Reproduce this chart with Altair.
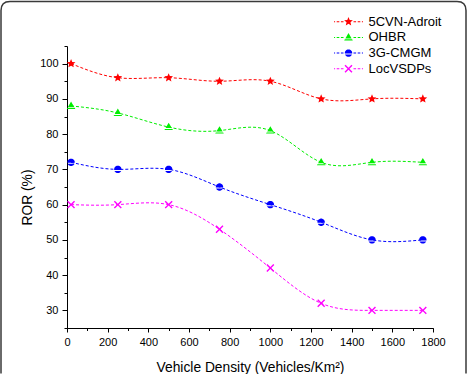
import math

import altair as alt
import pandas as pd

# ---- data -----------------------------------------------------------------
density = [20, 250, 500, 750, 1000, 1250, 1500, 1750]
series_names = ["5CVN-Adroit", "OHBR", "3G-CMGM", "LocVSDPs"]
ror_5cvn = [100, 96, 96, 95, 95, 90, 90, 90]
ror_ohbr = [88, 86, 82, 81, 81, 72, 72, 72]
ror_3g = [72, 70, 70, 65, 60, 55, 50, 50]
ror_loc = [60, 60, 60, 53, 42, 32, 30, 30]
series_colors = ["#ff0000", "#00ee00", "#0000ff", "#ff00ff"]

x_major = list(range(0, 1801, 200))
x_minor = list(range(0, 1801, 100))
y_major = list(range(30, 101, 10))
y_minor = list(range(25, 106, 5))

rows = []
for name, vals in zip(series_names, [ror_5cvn, ror_ohbr, ror_3g, ror_loc]):
    for d, v in zip(density, vals):
        rows.append({"series": name, "density": d, "ror": v})
df = pd.DataFrame(rows)


# ---- marker glyphs (built in pixels, converted to symbol units) -------------
def fmt(v):
    s = f"{v:.3f}".rstrip("0").rstrip(".")
    return s if s not in ("-0", "") else "0"


def to_path(polys, k):
    out = []
    for pts in polys:
        out.append("M" + "L".join(f"{fmt(x / k)},{fmt(y / k)}" for x, y in pts) + "Z")
    return "".join(out)


def star_px(R=4.6, ratio=0.45):
    pts = []
    for i in range(10):
        r = R if i % 2 == 0 else R * ratio
        a = -math.pi / 2 + i * math.pi / 5
        pts.append((r * math.cos(a), r * math.sin(a)))
    return [pts]


def banded_triangle_px(h1=4.4, h2=3.0, w=4.3, c1=1.0, c2=1.9):
    def half(y):
        return w * (y + h1) / (h1 + h2)
    upper = [(0, -h1), (half(c1), c1), (-half(c1), c1)]
    lower = [(-half(c2), c2), (half(c2), c2), (w, h2), (-w, h2)]
    return [upper, lower]


def banded_circle_px(r=3.7, y1=0.5, y2=1.5, n=24):
    a = math.asin(y1 / r)
    b = math.asin(y2 / r)
    upper = [(r * math.cos(t), r * math.sin(t))
             for t in [a + (-math.pi - 2 * a) * i / n for i in range(n + 1)]]
    lower = [(r * math.cos(t), r * math.sin(t))
             for t in [b + (math.pi - 2 * b) * i / n for i in range(n + 1)]]
    return [upper, lower]


def x_cross_px(a=4.9, h=0.7):
    plus = [(h, -a), (h, -h), (a, -h), (a, h), (h, h), (h, a),
            (-h, a), (-h, h), (-a, h), (-a, -h), (-h, -h), (-h, -a)]
    c = math.cos(math.pi / 4)
    return [[((x - y) * c, (x + y) * c) for x, y in plus]]


def dashes_px(outer=14.5, inner=5.0, dash=2.6, gap=1.6, t=0.5):
    polys = []
    x = inner
    while x < outer:
        x2 = min(x + dash, outer)
        for s in (1, -1):
            polys.append([(s * x, -t), (s * x2, -t), (s * x2, t), (s * x, t)])
        x = x2 + gap
    return polys


glyphs = [star_px(), banded_triangle_px(), banded_circle_px(), x_cross_px()]

PLOT_SIZE, LEGEND_SIZE = 64, 256
k_plot = math.sqrt(PLOT_SIZE) / 2
k_leg = math.sqrt(LEGEND_SIZE) / 2
plot_shapes = [to_path(g, k_plot) for g in glyphs]
legend_shapes = [to_path(dashes_px() + g, k_leg) for g in glyphs]

# ---- chart ------------------------------------------------------------------
W, H = 366, 282
FONT = "Liberation Sans"

x_scale = alt.Scale(domain=[0, 1800], nice=False, zero=False)
y_scale = alt.Scale(domain=[25, 105], nice=False, zero=False)
color_scale = alt.Scale(domain=series_names, range=series_colors)

base = alt.Chart(df)

lines = base.mark_line(interpolate="natural", strokeWidth=1, strokeDash=[3, 2]).encode(
    x=alt.X("density:Q", scale=x_scale,
            axis=alt.Axis(values=x_major, orient="bottom", format="d",
                          title="Vehicle Density (Vehicles/Km²)",
                          tickSize=4, labelPadding=4, titlePadding=13,
                          labelFlush=False)),
    y=alt.Y("ror:Q", scale=y_scale,
            axis=alt.Axis(values=y_major, orient="left", format="d",
                          title="ROR (%)", tickSize=5, labelPadding=4,
                          titleX=-33, titleY=151, titleBaseline="bottom")),
    color=alt.Color("series:N", scale=color_scale, legend=None),
)

points = base.mark_point(filled=True, size=PLOT_SIZE, opacity=1).encode(
    x=alt.X("density:Q", scale=x_scale, axis=None),
    y=alt.Y("ror:Q", scale=y_scale, axis=None),
    color=alt.Color("series:N", scale=color_scale, legend=None),
    shape=alt.Shape("series:N",
                    scale=alt.Scale(domain=series_names, range=plot_shapes),
                    legend=None),
)

legend_kw = dict(
    title=None, orient="none", legendX=273.5, legendY=-32.3,
    padding=0, rowPadding=0.7, labelOffset=12, symbolSize=LEGEND_SIZE,
    symbolStrokeWidth=0, symbolOpacity=1,
    labelFont=FONT, labelFontSize=13, labelColor="#000000",
)

# invisible layer that carries the legend and the minor tick axes
legend_layer = base.mark_point(filled=True, size=LEGEND_SIZE, opacity=0).encode(
    x=alt.X("density:Q", scale=x_scale,
            axis=alt.Axis(values=x_minor, orient="bottom", labels=False,
                          domain=False, title=None, tickSize=2.5)),
    y=alt.Y("ror:Q", scale=y_scale,
            axis=alt.Axis(values=y_minor, orient="left", labels=False,
                          domain=False, title=None, tickSize=3)),
    color=alt.Color("series:N", scale=color_scale, legend=alt.Legend(**legend_kw)),
    shape=alt.Shape("series:N",
                    scale=alt.Scale(domain=series_names, range=legend_shapes),
                    legend=alt.Legend(**legend_kw)),
)

# rounded figure frame, open at the bottom, drawn as one symbol path anchored
# at the plot origin (size 4 -> path units are pixels); kept inside the canvas
L, T, R, B, RAD = -66, -44.5, W + 33, H + 45.5, 9
frame_path = (
    f"M{L},{B}V{T + RAD}Q{L},{T} {L + RAD},{T}"
    f"H{R - RAD}Q{R},{T} {R},{T + RAD}V{B}"
)
frame = alt.Chart(pd.DataFrame({"f": [0]})).mark_point(
    shape=frame_path, size=4, filled=False, opacity=1,
    stroke="#3a3a3a", strokeWidth=1.5,
).encode(x=alt.value(0), y=alt.value(0))

chart = (
    alt.layer(lines, points, legend_layer, frame)
    .resolve_scale(shape="independent")
    .resolve_axis(x="independent", y="independent")
    .resolve_legend(color="independent", shape="independent")
    .properties(
        width=W, height=H,
        padding={"left": 67, "top": 46, "right": 36, "bottom": 46},
        autosize=alt.AutoSizeParams(type="none"),
        background="white",
    )
    .configure_view(stroke=None)
    .configure_axis(
        grid=False,
        labelFont=FONT, labelFontSize=11, labelColor="#000000",
        titleFont=FONT, titleFontSize=13.8, titleFontWeight="normal",
        titleColor="#000000",
        domainColor="#000000", domainWidth=1,
        tickColor="#000000", tickWidth=1,
    )
)

chart.save("out.html", embed_options={"renderer": "svg", "actions": False})
